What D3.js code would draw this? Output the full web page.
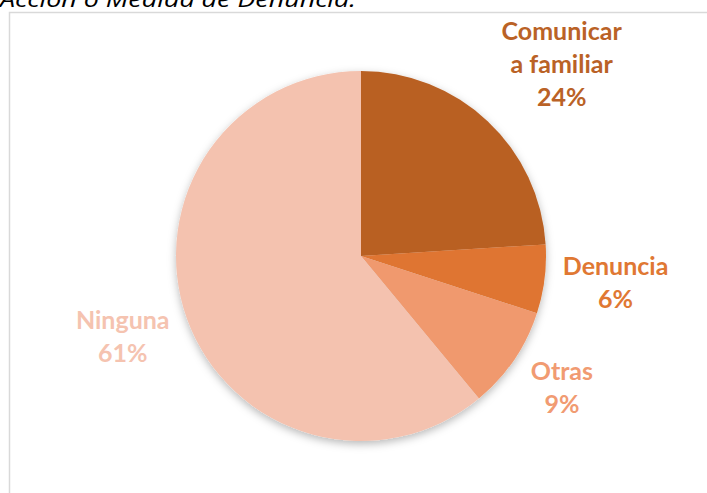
<!DOCTYPE html>
<html>
<head>
<meta charset="utf-8">
<script src="https://cdn.jsdelivr.net/npm/d3@7"></script>
<style>
  html, body { margin: 0; padding: 0; background: #ffffff; }
  svg { display: block; }
</style>
</head>
<body>
<svg id="chart" width="707" height="493"></svg>
<script>
const titleText = "Acción o Medida de Denuncia.";
const categories = ["Comunicar a familiar", "Denuncia", "Otras", "Ninguna"];
const values = [24, 6, 9, 61];
const labelLines = [["Comunicar", "a familiar"], ["Denuncia"], ["Otras"], ["Ninguna"]];
const colors = ["#B96024", "#DF7430", "#F0996E", "#F4C2AF"];
const labelColors = ["#BA6226", "#E07833", "#F19B72", "#F5C3B0"];

const svg = d3.select("#chart");
const W = 707, H = 493;

const defs = svg.append("defs");
const f = defs.append("filter").attr("id", "shadow")
  .attr("x", "-20%").attr("y", "-20%").attr("width", "140%").attr("height", "140%");
f.append("feDropShadow").attr("dx", 0).attr("dy", 3).attr("stdDeviation", 4)
  .attr("flood-color", "#000").attr("flood-opacity", 0.28);

// title (partially cut off at the top, as in the reference)
svg.append("text")
  .attr("x", 0).attr("y", 7)
  .attr("font-family", "'Open Sans', 'Liberation Sans', sans-serif")
  .attr("font-style", "italic")
  .attr("font-size", 22)
  .attr("textLength", 356)
  .attr("lengthAdjust", "spacingAndGlyphs")
  .attr("fill", "#000")
  .text(titleText);

svg.append("rect")
  .attr("x", 9.5).attr("y", 12.5)
  .attr("width", W).attr("height", H)
  .attr("fill", "#fff")
  .attr("stroke", "#d9d9d9").attr("stroke-width", 1.5);

const cx = 361, cy = 256, r = 185;

const pie = d3.pie().sort(null).value(d => d)(values);
const arc = d3.arc().innerRadius(0).outerRadius(r);

const g = svg.append("g").attr("transform", `translate(${cx},${cy})`);
g.append("g").attr("filter", "url(#shadow)")
  .selectAll("path").data(pie).join("path")
  .attr("d", arc)
  .attr("fill", (d, i) => colors[i]);

// labels placed outside the slice, along its mid-angle, with small nudges
const labelR = r * 1.3;
const nudgeX = [36, 16, 2, -12];
const nudgeY = [-8, 5, 5, 8];
const fontSize = 25;
const lineH = 33;

pie.forEach((d, i) => {
  const mid = (d.startAngle + d.endAngle) / 2;
  const x = Math.sin(mid) * labelR + nudgeX[i];
  const y = -Math.cos(mid) * labelR + nudgeY[i];
  const lines = labelLines[i].concat([values[i] + "%"]);
  const t = g.append("text")
    .attr("text-anchor", "middle")
    .attr("font-family", "Lato, 'Open Sans', sans-serif")
    .attr("font-weight", "bold")
    .attr("font-size", fontSize)
    .attr("fill", labelColors[i]);
  const n = lines.length;
  lines.forEach((ln, j) => {
    t.append("tspan")
      .attr("x", x)
      .attr("y", y + (j - (n - 1) / 2) * lineH)
      .text(ln);
  });
});
</script>
</body>
</html>
